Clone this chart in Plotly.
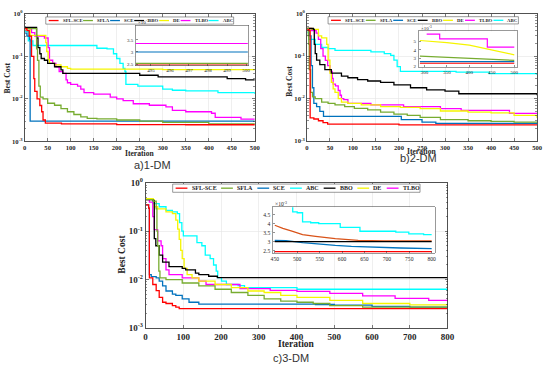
import plotly.graph_objects as go

W, H = 550, 370
SERIF = "Liberation Serif"
SANS = "Liberation Sans"
AXC = "#262626"

COLORS = {"SFL-SCE": "#FF0000", "SFLA": "#77AC30", "SCE": "#0072BD", "BBO": "#000000",
          "DE": "#F5F500", "TLBO": "#FF00FF", "ABC": "#00FFFF", "ORANGE": "#D95319"}

# ---------------- Panel a (1-DM) ----------------
a_sflsce_x = [1, 5, 10, 15, 20, 22, 27, 33, 37, 40, 45, 80, 200, 350, 500]
a_sflsce_y = [0.45, 0.4, 0.3, 0.1, 0.03, 0.015, 0.01, 0.007, 0.005, 0.0032, 0.0027, 0.0026, 0.0025, 0.00247, 0.00247]
a_sfla_x = [1, 22, 26, 28, 31, 34, 40, 50, 65, 79, 93, 107, 122, 136, 157, 200, 250, 300, 400, 500]
a_sfla_y = [0.45, 0.45, 0.15, 0.08, 0.02, 0.011, 0.01, 0.0079, 0.0071, 0.0059, 0.005, 0.0043, 0.0038, 0.0035, 0.0034, 0.0032, 0.003, 0.0028, 0.0026, 0.0025]
a_sce_x = [1, 5, 11, 12, 500]
a_sce_y = [0.35, 0.3, 0.25, 0.003, 0.003]
a_bbo_x = [1, 22, 26, 29, 33, 36, 43, 50, 65, 79, 83, 250, 290, 440, 480, 500]
a_bbo_y = [0.48, 0.48, 0.27, 0.16, 0.115, 0.089, 0.081, 0.068, 0.057, 0.048, 0.04, 0.036, 0.033, 0.03, 0.028, 0.028]
a_de_x = [1, 12, 46, 48, 51, 54, 65, 79, 93, 100, 300, 500]
a_de_y = [0.45, 0.31, 0.21, 0.13, 0.085, 0.068, 0.063, 0.057, 0.052, 0.05, 0.049, 0.048]
a_tlbo_x = [1, 4, 15, 22, 43, 51, 54, 61, 68, 75, 83, 90, 93, 100, 115, 122, 129, 150, 186, 200,
            214, 236, 271, 307, 321, 350, 406, 414, 470, 500]
a_tlbo_y = [0.45, 0.45, 0.36, 0.3, 0.27, 0.16, 0.081, 0.068, 0.057, 0.044, 0.04, 0.028, 0.024, 0.022, 0.02, 0.017, 0.014, 0.013, 0.011, 0.01,
            0.0091, 0.0077, 0.0071, 0.0065, 0.0054, 0.005, 0.0046, 0.0037, 0.00335, 0.00335]
a_abc_x = [1, 8, 18, 150, 157, 179, 193, 200, 207, 214, 218, 220, 243, 246, 293, 300, 321, 350, 420, 500]
a_abc_y = [0.38, 0.23, 0.18, 0.18, 0.155, 0.15, 0.115, 0.089, 0.068, 0.052, 0.044, 0.022, 0.022, 0.02, 0.02, 0.017, 0.016, 0.0155, 0.014, 0.013]

# inset a (values in 1e-3)
ins_a_x = [494, 500.1]
ins_a_tlbo = [3.35, 3.35]
ins_a_sce = [3.0, 3.0]
ins_a_sfla = [2.53, 2.53]
ins_a_sflsce = [2.46, 2.46]

# ---------------- Panel b (2-DM) ----------------
b_sflsce_x = [1, 5, 7, 15, 25, 35, 45, 200, 500]
b_sflsce_y = [0.42, 0.4, 0.0035, 0.0033, 0.003, 0.0027, 0.0025, 0.0024, 0.0024]
b_sfla_x = [1, 3, 4, 5, 8, 12, 18, 32, 46, 61, 82, 103, 132, 160, 189, 218, 246, 290, 350, 400, 450, 500]
b_sfla_y = [0.45, 0.3, 0.19, 0.048, 0.014, 0.011, 0.01, 0.0083, 0.0077, 0.0071, 0.0065, 0.0059, 0.0054, 0.0048, 0.0043, 0.004, 0.0036, 0.0032, 0.003, 0.0029, 0.0028, 0.0027]
b_sce_x = [1, 5, 9, 12, 15, 21, 28, 36, 205, 250, 280, 500]
b_sce_y = [0.4, 0.3, 0.06, 0.018, 0.0077, 0.0065, 0.005, 0.0038, 0.0032, 0.0028, 0.0026, 0.0026]
b_bbo_x = [1, 14, 16, 18, 21, 28, 39, 53, 75, 89, 110, 132, 160, 189, 225, 260, 300, 330, 500]
b_bbo_y = [0.45, 0.43, 0.19, 0.115, 0.081, 0.063, 0.048, 0.04, 0.034, 0.031, 0.028, 0.026, 0.024, 0.021, 0.018, 0.016, 0.015, 0.013, 0.012]
b_de_x = [1, 11, 25, 32, 43, 46, 50, 53, 57, 61, 68, 75, 89, 118, 160, 203, 246, 290, 350, 400, 450, 500]
b_de_y = [0.45, 0.43, 0.3, 0.27, 0.19, 0.081, 0.04, 0.024, 0.017, 0.014, 0.01, 0.0083, 0.0077, 0.0071, 0.0065, 0.0062, 0.0058, 0.0051, 0.0048, 0.0046, 0.004, 0.0035]
b_tlbo_x = [1, 10, 20, 25, 30, 35, 40, 45, 50, 55, 57, 62, 68, 72, 75, 80, 89, 139, 210, 290, 335, 440, 500]
b_tlbo_y = [0.45, 0.4, 0.35, 0.25, 0.15, 0.1, 0.08, 0.06, 0.044, 0.03, 0.022, 0.02, 0.0155, 0.012, 0.01, 0.0095, 0.0077, 0.0071, 0.0065, 0.0058, 0.0053, 0.0045, 0.0045]
b_abc_x = [1, 4, 18, 32, 46, 61, 103, 139, 168, 182, 189, 196, 203, 324, 396, 500]
b_abc_y = [0.36, 0.25, 0.19, 0.16, 0.15, 0.137, 0.137, 0.126, 0.115, 0.105, 0.081, 0.057, 0.044, 0.042, 0.039, 0.036]

# inset b (values in 1e-3)
ins_b_tlbo_x = [305, 334, 440, 500]
ins_b_tlbo_y = [5.85, 5.28, 4.32, 4.32]
ins_b_de_x = [290, 350, 400, 450, 500]
ins_b_de_y = [5.1, 4.85, 4.55, 4.0, 3.4]
ins_b_sfla_x = [290, 330, 370, 420, 460, 500]
ins_b_sfla_y = [3.25, 3.15, 3.0, 2.9, 2.8, 2.75]
ins_b_sce_x = [290, 500]
ins_b_sce_y = [2.6, 2.6]
ins_b_sflsce_x = [290, 500]
ins_b_sflsce_y = [2.4, 2.4]

# ---------------- Panel c (3-DM) ----------------
c_sflsce_x = [1, 8, 10, 19, 28, 36, 45, 54, 71, 80, 89, 800]
c_sflsce_y = [0.35, 0.3, 0.0108, 0.0079, 0.0059, 0.0043, 0.0034, 0.0032, 0.0029, 0.0027, 0.0025, 0.0025]
c_sfla_x = [1, 20, 28, 30, 32, 35, 38, 54, 97, 141, 184, 227, 271, 314, 358, 401, 444, 488, 575, 800]
c_sfla_y = [0.45, 0.42, 0.29, 0.1, 0.05, 0.015, 0.0108, 0.01, 0.0085, 0.0074, 0.0063, 0.0054, 0.0047, 0.004, 0.0036, 0.0034, 0.0032, 0.0029, 0.0027, 0.0026]
c_sce_x = [1, 8, 10, 15, 28, 36, 45, 54, 71, 80, 97, 115, 141, 450, 500, 600, 700, 800]
c_sce_y = [0.35, 0.3, 0.0126, 0.0115, 0.0108, 0.0093, 0.0074, 0.0058, 0.005, 0.0047, 0.004, 0.0034, 0.0031, 0.00305, 0.00295, 0.0028, 0.0027, 0.0026]
c_abc_x = [1, 19, 36, 54, 71, 84, 90, 96, 100, 132, 136, 149, 158, 171, 180, 187, 191, 201, 214, 245, 262, 401, 800]
c_abc_y = [0.46, 0.37, 0.32, 0.27, 0.25, 0.23, 0.15, 0.1, 0.08, 0.08, 0.058, 0.05, 0.032, 0.027, 0.02, 0.015, 0.011, 0.0093, 0.0079, 0.0075, 0.0068, 0.0063, 0.0058]
c_bbo_x = [1, 20, 23, 27, 36, 45, 62, 97, 106, 132, 141, 167, 190, 800]
c_bbo_y = [0.45, 0.43, 0.07, 0.05, 0.032, 0.023, 0.0186, 0.017, 0.0158, 0.0136, 0.0126, 0.0117, 0.011, 0.011]
c_de_x = [1, 20, 23, 32, 54, 71, 80, 85, 89, 93, 97, 102, 110, 123, 141, 184, 227, 271, 314, 358, 401, 488, 575, 700, 800]
c_de_y = [0.47, 0.45, 0.32, 0.29, 0.25, 0.23, 0.17, 0.11, 0.068, 0.04, 0.027, 0.017, 0.0126, 0.0108, 0.0093, 0.0079, 0.0068, 0.0058, 0.0054, 0.0047, 0.0043, 0.0037, 0.0032, 0.003, 0.0029]
c_tlbo_x = [1, 10, 19, 23, 32, 41, 45, 54, 62, 97, 141, 160, 250, 330, 401, 488, 575, 661, 750, 800]
c_tlbo_y = [0.45, 0.4, 0.2, 0.108, 0.063, 0.05, 0.027, 0.0158, 0.0126, 0.0108, 0.0093, 0.0079, 0.0065, 0.006, 0.0057, 0.0052, 0.0046, 0.0041, 0.0037, 0.0035]

# inset c (values in 1e-3)
ins_c_abc_x = [450, 490, 500, 512, 530, 548, 596, 640, 720, 749, 782, 800]
ins_c_abc_y = [5.2, 4.65, 4.6, 4.1, 4.05, 4.0, 3.79, 3.58, 3.53, 3.44, 3.4, 3.4]
ins_c_orange_x = [450, 468, 490, 512, 541, 585, 636, 694, 800]
ins_c_orange_y = [3.91, 3.74, 3.58, 3.4, 3.3, 3.17, 3.08, 3.05, 3.05]
ins_c_bbo_x = [450, 800]
ins_c_bbo_y = [3.01, 3.01]
ins_c_sce_x = [450, 475, 512, 548, 585, 621, 658, 694, 731, 800]
ins_c_sce_y = [3.08, 3.07, 2.96, 2.87, 2.8, 2.75, 2.71, 2.68, 2.66, 2.62]
ins_c_sflsce_x = [450, 800]
ins_c_sflsce_y = [2.46, 2.46]

# tick labels
iter_ticks_500 = [0, 50, 100, 150, 200, 250, 300, 350, 400, 450, 500]
iter_ticks_800 = [0, 100, 200, 300, 400, 500, 600, 700, 800]
log_ticks = [1e-3, 1e-2, 1e-1, 1]
log_text = ["10<sup>-3</sup>", "10<sup>-2</sup>", "10<sup>-1</sup>", "10<sup>0</sup>"]
ins_a_xt = [495, 496, 497, 498, 499, 500]
ins_a_yt = [2.5, 3, 3.5]
ins_b_xt = [300, 350, 400, 450, 500]
ins_b_yt = [2, 3, 4, 5]
ins_c_xt = [450, 500, 550, 600, 650, 700, 750, 800]
ins_c_yt = [2.5, 3, 3.5, 4, 4.5]


def fx(px):
    return px / W


def fy(py):
    return 1 - py / H


fig = go.Figure()


def add(x, y, name, ax, shape="hv", width=1.3):
    fig.add_trace(go.Scatter(x=x, y=y, mode="lines", line=dict(color=COLORS[name], width=width, shape=shape),
                             xaxis="x" + ax, yaxis="y" + ax, showlegend=False, hoverinfo="skip"))


# panel a traces
add(a_abc_x, a_abc_y, "ABC", "")
add(a_tlbo_x, a_tlbo_y, "TLBO", "")
add(a_de_x, a_de_y, "DE", "")
add(a_bbo_x, a_bbo_y, "BBO", "")
add(a_sce_x, a_sce_y, "SCE", "")
add(a_sfla_x, a_sfla_y, "SFLA", "")
add(a_sflsce_x, a_sflsce_y, "SFL-SCE", "")
# panel b
add(b_abc_x, b_abc_y, "ABC", "2")
add(b_tlbo_x, b_tlbo_y, "TLBO", "2")
add(b_de_x, b_de_y, "DE", "2")
add(b_bbo_x, b_bbo_y, "BBO", "2")
add(b_sce_x, b_sce_y, "SCE", "2")
add(b_sfla_x, b_sfla_y, "SFLA", "2")
add(b_sflsce_x, b_sflsce_y, "SFL-SCE", "2")
# panel c
add(c_abc_x, c_abc_y, "ABC", "3")
add(c_tlbo_x, c_tlbo_y, "TLBO", "3")
add(c_de_x, c_de_y, "DE", "3")
add(c_bbo_x, c_bbo_y, "BBO", "3")
add(c_sce_x, c_sce_y, "SCE", "3")
add(c_sfla_x, c_sfla_y, "SFLA", "3")
add(c_sflsce_x, c_sflsce_y, "SFL-SCE", "3")
# inset a
add(ins_a_x, ins_a_tlbo, "TLBO", "4", "linear", 1.2)
add(ins_a_x, ins_a_sce, "SCE", "4", "linear", 1.2)
add(ins_a_x, ins_a_sfla, "SFLA", "4", "linear", 1.2)
add(ins_a_x, ins_a_sflsce, "SFL-SCE", "4", "linear", 1.2)
# inset b
add(ins_b_tlbo_x, ins_b_tlbo_y, "TLBO", "5", "hv", 1.2)
add(ins_b_de_x, ins_b_de_y, "DE", "5", "linear", 1.2)
add(ins_b_sfla_x, ins_b_sfla_y, "SFLA", "5", "linear", 1.2)
add(ins_b_sce_x, ins_b_sce_y, "SCE", "5", "linear", 1.2)
add(ins_b_sflsce_x, ins_b_sflsce_y, "SFL-SCE", "5", "linear", 1.2)
# inset c
add(ins_c_abc_x, ins_c_abc_y, "ABC", "6", "hv", 1.3)
add(ins_c_orange_x, ins_c_orange_y, "ORANGE", "6", "linear", 1.3)
add(ins_c_sce_x, ins_c_sce_y, "SCE", "6", "linear", 1.3)
add(ins_c_bbo_x, ins_c_bbo_y, "BBO", "6", "linear", 1.3)
add(ins_c_sflsce_x, ins_c_sflsce_y, "SFL-SCE", "6", "linear", 1.3)

minor_vals = [k * 10 ** e for e in (-3, -2, -1) for k in range(2, 10)]


def xax(x0, x1, y_anchor, rng, tv, fs):
    return dict(domain=[fx(x0), fx(x1)], anchor=y_anchor, range=rng, tickmode="array", tickvals=tv,
                ticks="inside", ticklen=3, tickwidth=0.6, tickcolor=AXC, showline=True, linecolor=AXC,
                linewidth=0.8, mirror="ticks", showgrid=True, gridcolor="#e4e4e4", gridwidth=0.6,
                zeroline=False, tickfont=dict(family=SERIF, size=fs, color=AXC, weight="bold"))


def yax(y0, y1, x_anchor, fs):
    return dict(domain=[fy(y1), fy(y0)], anchor=x_anchor, type="log", range=[-3, 0], tickmode="array",
                tickvals=log_ticks, ticktext=log_text, ticks="inside", ticklen=3, tickwidth=0.6,
                tickcolor=AXC, showline=True, linecolor=AXC, linewidth=0.8, mirror="ticks",
                showgrid=True, gridcolor="#e4e4e4", gridwidth=0.6, zeroline=False,
                minor=dict(tickmode="array", tickvals=minor_vals, ticks="inside", ticklen=1.8,
                           tickwidth=0.5, tickcolor=AXC, showgrid=False),
                tickfont=dict(family=SERIF, size=fs, color=AXC, weight="bold"))


def ins_x(x0, x1, y_anchor, rng, tv, fs):
    return dict(domain=[fx(x0), fx(x1)], anchor=y_anchor, range=rng, tickmode="array", tickvals=tv,
                ticks="inside", ticklen=2, tickwidth=0.5, tickcolor=AXC, showline=True, linecolor="#555",
                linewidth=0.6, mirror=True, showgrid=False, zeroline=False, ticklabelstandoff=0,
                tickfont=dict(family=SERIF, size=fs, color=AXC))


def ins_y(y0, y1, x_anchor, rng, tv, fs):
    return dict(domain=[fy(y1), fy(y0)], anchor=x_anchor, range=rng, tickmode="array", tickvals=tv,
                ticks="inside", ticklen=2, tickwidth=0.5, tickcolor=AXC, showline=True, linecolor="#555",
                linewidth=0.6, mirror=True, showgrid=False, zeroline=False, ticklabelstandoff=1,
                tickfont=dict(family=SERIF, size=fs, color=AXC))


layout = dict(
    width=W, height=H, margin=dict(l=0, r=0, t=0, b=0), paper_bgcolor="white", plot_bgcolor="white",
    xaxis=xax(23, 257, "y", [0, 500], iter_ticks_500, 6.6),
    yaxis=yax(7, 139, "x", 6.6),
    xaxis2=xax(310, 544, "y2", [0, 500], iter_ticks_500, 6.6),
    yaxis2=yax(7, 138.5, "x2", 6.6),
    xaxis3=xax(146, 453, "y3", [0, 800], iter_ticks_800, 9),
    yaxis3=yax(181.7, 331.7, "x3", 9),
    xaxis4=ins_x(136, 250, "y4", [494.2, 500.1], ins_a_xt, 5),
    yaxis4=ins_y(19, 60.5, "x4", [2.44, 4.1], ins_a_yt, 5),
    xaxis5=ins_x(423.5, 524, "y5", [287, 507], ins_b_xt, 5),
    yaxis5=ins_y(25, 62, "x5", [1.96, 6.2], ins_b_yt, 5),
    xaxis6=ins_x(275.5, 440, "y6", [446, 807], ins_c_xt, 5.6),
    yaxis6=ins_y(207, 254.5, "x6", [2.37, 4.9], ins_c_yt, 5.6),
)
fig.update_layout(**layout)

annotations = []
shapes = []


def text(px, py, s, size, family=SERIF, bold=True, angle=0, xanchor="center", color=AXC):
    annotations.append(dict(x=fx(px), y=fy(py), xref="paper", yref="paper", text=s, showarrow=False,
                            textangle=angle, xanchor=xanchor, yanchor="middle",
                            font=dict(family=family, size=size, color=color,
                                      weight="bold" if bold else "normal")))


# axis titles and captions
text(6, 73, "Best Cost", 7.6, angle=-90)
text(140, 151.5, "Iteration", 7.6)
text(152.5, 163.5, "a)1-DM", 11, family=SANS, bold=False, color="#333")
text(292, 77, "Best Cost", 7.6, angle=-90)
text(426, 149.5, "Iteration", 7.6)
text(423.5, 156, "b)2-DM", 11, family=SANS, bold=False, color="#333")
text(122, 256, "Best Cost", 9.5, angle=-90)
text(299.5, 348.5, "Iteration", 9.5)
text(293.5, 363, "c)3-DM", 11, family=SANS, bold=False, color="#333")
# inset multipliers
text(136, 15.5, "×10<sup>-3</sup>", 5, bold=False, xanchor="left")
text(423.5, 22, "×10<sup>-3</sup>", 5, bold=False, xanchor="left")
text(276, 204, "×10<sup>-3</sup>", 5.6, bold=False, xanchor="left")

EM = {"S": 0.556, "F": 0.611, "L": 0.667, "-": 0.333, "C": 0.722, "E": 0.667, "A": 0.722,
      "B": 0.667, "O": 0.778, "D": 0.722, "T": 0.667}


def legend(x0, x1, y0, y1, names, fs, line_len):
    pad, g1 = 3, 2.2
    widths = [sum(EM.get(ch, 0.6) for ch in n) * fs for n in names]
    total = sum(line_len + g1 + w for w in widths)
    gap = (x1 - x0 - 2 * pad - total) / (len(names) - 1)
    shapes.append(dict(type="rect", xref="paper", yref="paper", x0=fx(x0), x1=fx(x1), y0=fy(y1), y1=fy(y0),
                       line=dict(color="#555", width=0.6), fillcolor="white", layer="above"))
    cy = (y0 + y1) / 2
    x = x0 + pad
    for n, w in zip(names, widths):
        shapes.append(dict(type="line", xref="paper", yref="paper", x0=fx(x), x1=fx(x + line_len),
                           y0=fy(cy), y1=fy(cy), line=dict(color=COLORS[n], width=1.3), layer="above"))
        text(x + line_len + g1, cy, n, fs, xanchor="left")
        x += line_len + g1 + w + gap


order_ab = ["SFL-SCE", "SFLA", "SCE", "BBO", "DE", "TLBO", "ABC"]
order_c = ["SFL-SCE", "SFLA", "SCE", "ABC", "BBO", "DE", "TLBO"]
legend(44.5, 235.5, 10.3, 17.7, order_ab, 4.8, 10)
legend(331.5, 525, 10, 17.5, order_ab, 4.8, 10)
legend(173.5, 425, 183, 191.5, order_c, 6.0, 12)

fig.update_layout(annotations=annotations, shapes=shapes)
fig.write_html("out.html", config={"displayModeBar": False, "staticPlot": True},
               post_script="document.body.style.margin='0px';document.body.style.overflow='hidden';")
